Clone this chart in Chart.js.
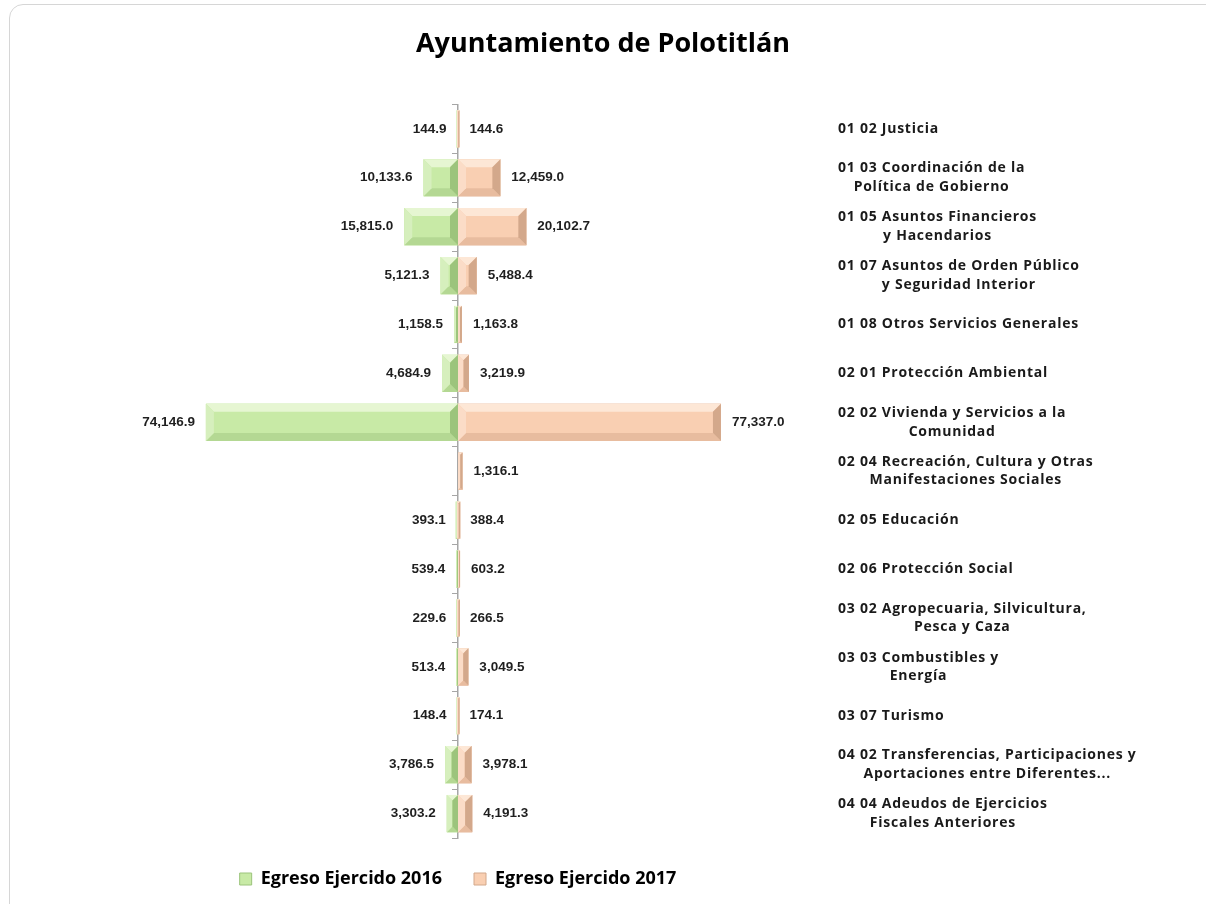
<!DOCTYPE html>
<html lang="es">
<head>
  <meta charset="UTF-8">
  <title>Ayuntamiento de Polotitlán</title>
  <style>
    body { margin: 0; background: #ffffff; }
    .frame { position: absolute; left: 9px; top: 4px; width: 1230px; height: 940px; border: 1px solid #d6d6d6; border-radius: 14px; }
    .chart-box { position: absolute; left: 0; top: 0; width: 1206px; height: 904px; }
  </style>
</head>
<body>
  <div class="frame"></div>
  <div class="chart-box">
    <canvas class="butterflyChart"></canvas>
  </div>

  <script src="https://cdn.jsdelivr.net/npm/chart.js"></script>
  <script>

const categories = [
  ['01 02 Justicia'],
  ['01 03 Coordinación de la', 'Política de Gobierno'],
  ['01 05 Asuntos Financieros', 'y Hacendarios'],
  ['01 07 Asuntos de Orden Público', 'y Seguridad Interior'],
  ['01 08 Otros Servicios Generales'],
  ['02 01 Protección Ambiental'],
  ['02 02 Vivienda y Servicios a la', 'Comunidad'],
  ['02 04 Recreación, Cultura y Otras', 'Manifestaciones Sociales'],
  ['02 05 Educación'],
  ['02 06 Protección Social'],
  ['03 02 Agropecuaria, Silvicultura,', 'Pesca y Caza'],
  ['03 03 Combustibles y', 'Energía'],
  ['03 07 Turismo'],
  ['04 02 Transferencias, Participaciones y', 'Aportaciones entre Diferentes...'],
  ['04 04 Adeudos de Ejercicios', 'Fiscales Anteriores']
];

const egreso2016 = [144.9, 10133.6, 15815.0, 5121.3, 1158.5, 4684.9, 74146.9, null, 393.1, 539.4, 229.6, 513.4, 148.4, 3786.5, 3303.2];
const egreso2017 = [144.6, 12459.0, 20102.7, 5488.4, 1163.8, 3219.9, 77337.0, 1316.1, 388.4, 603.2, 266.5, 3049.5, 174.1, 3978.1, 4191.3];

const seriesNames = ['Egreso Ejercido 2016', 'Egreso Ejercido 2017'];

// bevel colours: face, top, bottom, left, right
const bevelGreen = ['#c8eaa6', '#e6f6d2', '#b4d893', '#d6efbd', '#9cc47c'];
const bevelPeach = ['#f9cfb2', '#fde7d6', '#e8bc9f', '#fbdcc7', '#d3a88b'];

const fmt = (v) => v.toLocaleString('en-US', { minimumFractionDigits: 1, maximumFractionDigits: 1 });

// draws the bevelled look over every bar
const bevelPlugin = {
  id: 'bevel',
  afterDatasetsDraw(chart) {
    let ctx = chart.ctx;
    chart.data.datasets.forEach((ds, di) => {
      let cols = di === 0 ? bevelGreen : bevelPeach;
      chart.getDatasetMeta(di).data.forEach((bar, i) => {
        if (ds.data[i] == null) return;
        let L = Math.min(bar.x, bar.base), R = Math.max(bar.x, bar.base);
        let T = bar.y - bar.height / 2, B = bar.y + bar.height / 2;
        let w = R - L;
        if (w < 1.5) { L -= 1; R += 1; w = R - L; }
        let b = Math.min(8, w / 2, bar.height / 3);
        const poly = (pts, c) => {
          ctx.beginPath();
          ctx.moveTo(pts[0][0], pts[0][1]);
          for (let k = 1; k < pts.length; k++) ctx.lineTo(pts[k][0], pts[k][1]);
          ctx.closePath();
          ctx.fillStyle = c;
          ctx.fill();
        };
        ctx.save();
        poly([[L, T], [R, T], [R, B], [L, B]], cols[0]);
        poly([[L, T], [R, T], [R - b, T + b], [L + b, T + b]], cols[1]);
        poly([[L, B], [R, B], [R - b, B - b], [L + b, B - b]], cols[2]);
        poly([[L, T], [L + b, T + b], [L + b, B - b], [L, B]], cols[3]);
        poly([[R, T], [R - b, T + b], [R - b, B - b], [R, B]], cols[4]);
        ctx.restore();
      });
    });
  }
};

// value labels beside the bar ends
const valueLabels = {
  id: 'valueLabels',
  afterDatasetsDraw(chart) {
    let ctx = chart.ctx;
    ctx.save();
    ctx.font = 'bold 13.5px "Liberation Sans", Arial, sans-serif';
    ctx.fillStyle = '#1f1f1f';
    ctx.textBaseline = 'middle';
    chart.data.datasets.forEach((ds, di) => {
      let src = di === 0 ? egreso2016 : egreso2017;
      chart.getDatasetMeta(di).data.forEach((bar, i) => {
        if (src[i] == null) return;
        if (di === 0) {
          ctx.textAlign = 'right';
          ctx.fillText(fmt(src[i]), Math.min(bar.x, bar.base) - 11, bar.y);
        } else {
          ctx.textAlign = 'left';
          ctx.fillText(fmt(src[i]), Math.max(bar.x, bar.base) + 11, bar.y);
        }
      });
    });
    ctx.restore();
  }
};

// category names on the right, each block centred on its own lines
const categoryLabels = {
  id: 'categoryLabels',
  afterDraw(chart) {
    let ctx = chart.ctx;
    let yScale = chart.scales.y;
    let x0 = chart.chartArea.right + 40;
    ctx.save();
    ctx.font = 'bold 14px "Open Sans", sans-serif';
    ctx.letterSpacing = '0.75px';
    ctx.fillStyle = '#1a1a1a';
    ctx.textBaseline = 'middle';
    ctx.textAlign = 'center';
    categories.forEach((lines, i) => {
      let maxW = Math.max(...lines.map(l => ctx.measureText(l).width));
      let yc = yScale.getPixelForValue(i);
      lines.forEach((line, k) => {
        ctx.fillText(line, x0 + maxW / 2, yc + (k - (lines.length - 1) / 2) * 18.5);
      });
    });
    ctx.restore();
  }
};

let canvas = document.querySelector('.butterflyChart');
let context = canvas.getContext('2d');

let data = {
  labels: categories.map(c => c.join(' ')),
  datasets: [{
    label: seriesNames[0],
    data: egreso2016.map(v => v == null ? null : -v),
    backgroundColor: bevelGreen[0],
    borderWidth: 0,
    barPercentage: 0.76,
    categoryPercentage: 1.0
  }, {
    label: seriesNames[1],
    data: egreso2017,
    backgroundColor: bevelPeach[4],
    borderWidth: 0,
    barPercentage: 0.76,
    categoryPercentage: 1.0
  }]
};

// empty side axes only reserve room left and right of the plot
const spacerAxis = (pos, size) => ({
  type: 'category',
  axis: 'y',
  position: pos,
  ticks: { display: false },
  grid: { display: false },
  border: { display: false },
  afterFit: (scale) => { scale.width = size; }
});

let config = {
  type: 'bar',
  data: data,
  options: {
    indexAxis: 'y',
    responsive: true,
    maintainAspectRatio: false,
    animation: false,
    layout: {
      padding: { top: 0, bottom: 6, left: 0, right: 0 }
    },
    scales: {
      x: {
        stacked: true,
        min: -100000,
        max: 100000,
        display: false
      },
      y: {
        stacked: true,
        position: { x: 0 },
        ticks: { display: false },
        grid: { drawOnChartArea: false, tickLength: 5, color: '#a6a6a6' },
        border: { color: '#a6a6a6', width: 1.5 }
      },
      padLeft: spacerAxis('left', 118),
      padRight: spacerAxis('right', 408)
    },
    plugins: {
      title: {
        display: true,
        text: 'Ayuntamiento de Polotitlán',
        color: '#000000',
        font: { family: '"Open Sans", sans-serif', size: 27, weight: 'bold' },
        padding: { top: 28, bottom: 44 }
      },
      legend: {
        position: 'bottom',
        fullSize: false,
        labels: {
          boxWidth: 12,
          boxHeight: 12,
          padding: 32,
          color: '#000000',
          font: { family: '"Open Sans", sans-serif', size: 18, weight: 'bold' },
          generateLabels: (chart) => seriesNames.map((name, i) => ({
            text: name,
            fillStyle: i === 0 ? bevelGreen[0] : bevelPeach[0],
            strokeStyle: i === 0 ? bevelGreen[4] : bevelPeach[4],
            lineWidth: 1,
            datasetIndex: i
          }))
        }
      },
      tooltip: { enabled: false }
    }
  },
  plugins: [bevelPlugin, valueLabels, categoryLabels]
};

new Chart(context, config);

  </script>
</body>
</html>
